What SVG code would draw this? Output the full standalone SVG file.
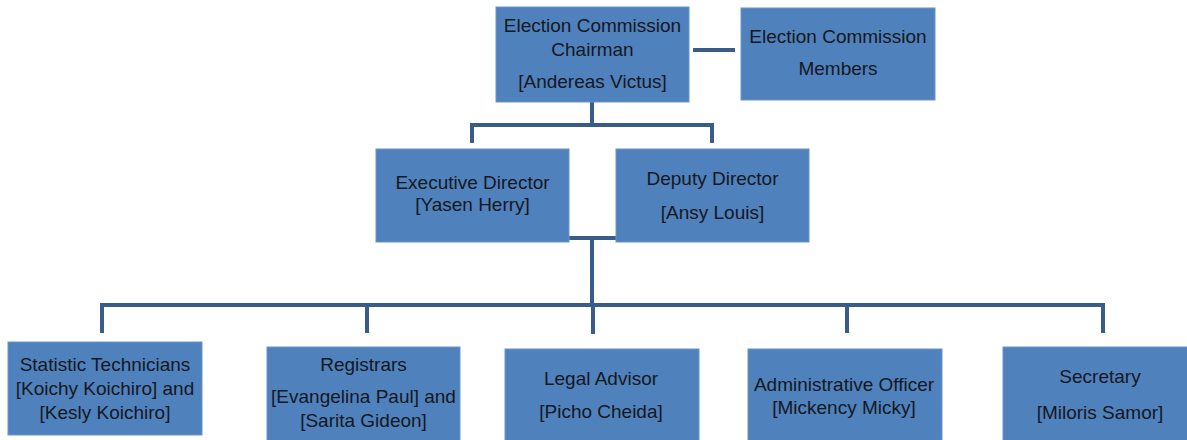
<svg xmlns="http://www.w3.org/2000/svg" width="1187" height="440" viewBox="0 0 1187 440">
<style>
.box{fill:#4F81BD;stroke:#6A94C8;stroke-width:1}
.t{font-family:"Liberation Sans",Arial,sans-serif;font-size:19px;fill:#151820;text-anchor:middle}
.c{fill:none;stroke:#385D8A;stroke-width:4;stroke-linejoin:miter}
</style>
<rect width="1187" height="440" fill="#ffffff"/>
<g id="connectors">
<path class="c" d="M693,50 H735" stroke-width="5"/>
<path class="c" d="M592,102 V125"/>
<path class="c" d="M472,143 V125 H712 V143"/>
<path class="c" d="M569,238 H616"/>
<path class="c" d="M592,238 V305"/>
<path class="c" d="M102,333 V305 H1103 V333"/>
<path class="c" d="M367,305 V333"/>
<path class="c" d="M593,305 V334"/>
<path class="c" d="M847,305 V333"/>
</g>
<g id="chairman">
<rect class="box" x="496" y="7" width="193" height="95"/>
<text class="t" x="592.5" y="32">Election Commission</text>
<text class="t" x="592.5" y="56">Chairman</text>
<text class="t" x="592.5" y="88">[Andereas Victus]</text>
</g>
<g id="members">
<rect class="box" x="741" y="8" width="194" height="92"/>
<text class="t" x="838" y="43">Election Commission</text>
<text class="t" x="838" y="75">Members</text>
</g>
<g id="executive">
<rect class="box" x="376" y="149" width="193" height="93"/>
<text class="t" x="472.5" y="189">Executive Director</text>
<text class="t" x="472.5" y="211">[Yasen Herry]</text>
</g>
<g id="deputy">
<rect class="box" x="616" y="149" width="193" height="93"/>
<text class="t" x="712.5" y="185">Deputy Director</text>
<text class="t" x="712.5" y="219">[Ansy Louis]</text>
</g>
<g id="statistic">
<rect class="box" x="8" y="342" width="194" height="93"/>
<text class="t" x="105" y="371">Statistic Technicians</text>
<text class="t" x="105" y="395">[Koichy Koichiro] and</text>
<text class="t" x="105" y="419">[Kesly Koichiro]</text>
</g>
<g id="registrars">
<rect class="box" x="267" y="347" width="193" height="96"/>
<text class="t" x="363.5" y="371">Registrars</text>
<text class="t" x="363.5" y="403">[Evangelina Paul] and</text>
<text class="t" x="363.5" y="427">[Sarita Gideon]</text>
</g>
<g id="legal">
<rect class="box" x="505" y="349" width="194" height="94"/>
<text class="t" x="601" y="385">Legal Advisor</text>
<text class="t" x="601" y="418">[Picho Cheida]</text>
</g>
<g id="admin">
<rect class="box" x="748" y="349" width="194" height="94"/>
<text class="t" x="844" y="391">Administrative Officer</text>
<text class="t" x="844" y="414">[Mickency Micky]</text>
</g>
<g id="secretary">
<rect class="box" x="1003" y="347" width="194" height="96"/>
<text class="t" x="1100" y="383">Secretary</text>
<text class="t" x="1100" y="419">[Miloris Samor]</text>
</g>
</svg>
